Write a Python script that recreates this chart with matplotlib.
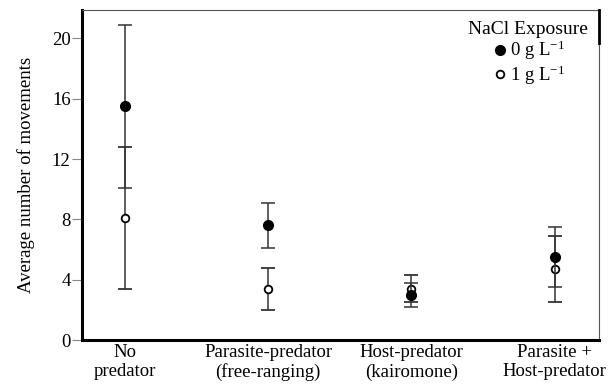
import matplotlib
matplotlib.use('Agg')
import matplotlib.pyplot as plt
from matplotlib.lines import Line2D
import numpy as np

plt.rcParams['font.family'] = ['Liberation Serif', 'DejaVu Serif']
plt.rcParams['mathtext.fontset'] = 'custom'
plt.rcParams['mathtext.rm'] = 'Liberation Serif'
plt.rcParams['mathtext.it'] = 'Liberation Serif:italic'

# Data
categories = ['No\npredator', 'Parasite-predator\n(free-ranging)',
              'Host-predator\n(kairomone)', 'Parasite +\nHost-predator']
mean_0g = [15.5, 7.6, 3.0, 5.5]
err_0g = [5.4, 1.5, 0.8, 2.0]
mean_1g = [8.1, 3.4, 3.4, 4.7]
err_1g = [4.7, 1.4, 0.9, 2.2]
yticks = [0, 4, 8, 12, 16, 20]
legend_labels = ['0 g L$^{-1}$', '1 g L$^{-1}$']

x = np.arange(len(categories))
ecol = '#333333'

fig, ax = plt.subplots(figsize=(6.1, 3.9), dpi=100)
fig.subplots_adjust(left=0.134, right=0.982, top=0.975, bottom=0.128)

ax.errorbar(x, mean_1g, yerr=err_1g, fmt='o', color=ecol, ecolor=ecol,
            mfc='white', mec='black', mew=1.3, ms=5.5, capsize=4.8,
            elinewidth=1.1, capthick=1.1, zorder=3)
ax.errorbar(x, mean_0g, yerr=err_0g, fmt='o', color=ecol, ecolor=ecol,
            mfc='black', mec='black', ms=7, capsize=4.8,
            elinewidth=1.1, capthick=1.1, zorder=4)

ax.set_xlim(-0.30, 3.31)
ax.set_ylim(0, 21.9)
ax.set_yticks(yticks)
ax.set_xticks(x)
ax.set_xticklabels(categories, fontsize=13.5, linespacing=1.15)
ax.tick_params(axis='x', length=0, pad=3)
ax.tick_params(axis='y', labelsize=13.5, length=7, width=0.8, color='#888888', pad=1)
ax.set_ylabel('Average number of movements', fontsize=13.5, labelpad=12)

for s in ['left', 'bottom']:
    ax.spines[s].set_linewidth(2.2)
    ax.spines[s].set_color('black')
for s in ['top', 'right']:
    ax.spines[s].set_linewidth(0.8)
    ax.spines[s].set_color('#555555')
ax.axvline(ax.get_xlim()[1], ymin=0.9, ymax=1.0, color='black', lw=2,
           clip_on=False, zorder=5)

handles = [Line2D([], [], ls='none', marker='o', ms=7, mfc='black', mec='black'),
           Line2D([], [], ls='none', marker='o', ms=5.5, mfc='white',
                  mec='black', mew=1.3)]
leg = ax.legend(handles, legend_labels, title='NaCl Exposure',
                loc='upper right', frameon=False, fontsize=13.5,
                title_fontsize=14, handletextpad=0.05,
                borderaxespad=0.0, borderpad=0.6, labelspacing=0.05,
                handlelength=1.0)

fig.savefig('out.png', dpi=100)
